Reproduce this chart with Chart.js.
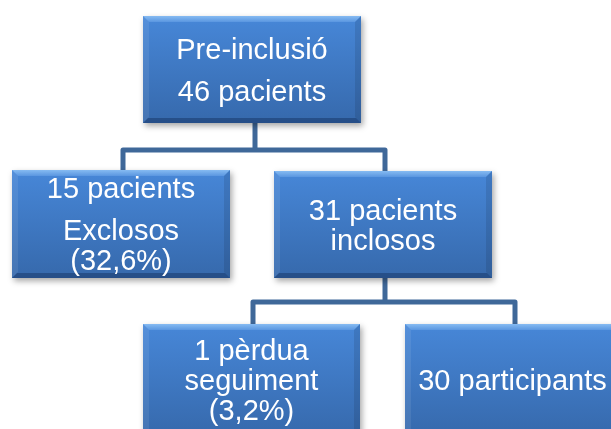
<!DOCTYPE html>
<html>
<head>
<meta charset="utf-8">
<script src="https://cdn.jsdelivr.net/npm/chart.js@4/dist/chart.umd.min.js"></script>
<style>
  html, body { margin: 0; padding: 0; background: #fff; }
  #wrap { width: 611px; height: 429px; }
</style>
</head>
<body>
<div id="wrap"><canvas id="myChart" width="611" height="429"></canvas></div>
<script>
// node texts (paragraphs -> lines)
var nodeIds = ['pre', 'excl', 'incl', 'lost', 'part'];
var nodeText = [
  [['Pre-inclusió'], ['46 pacients']],
  [['15 pacients'], ['Exclosos', '(32,6%)']],
  [['31 pacients', 'inclosos']],
  [['1 pèrdua', 'seguiment', '(3,2%)']],
  [['30 participants']]
];
// parent -> children
var links = [
  ['pre', ['excl', 'incl']],
  ['incl', ['lost', 'part']]
];

// layout in page units (left, top, right, bottom)
var boxes = {
  pre:  [143, 16, 361, 123],
  excl: [12, 170, 230, 278],
  incl: [274, 171, 492, 278],
  lost: [143, 324, 360, 436],
  part: [405, 324, 620, 436]
};
var stemX = { pre: 255, excl: 123, incl: 385, lost: 253, part: 515 };
var barY = { pre: 150, incl: 302 };

function cx(id){ return stemX[id]; }

// build connector datasets from the links
var connectorSets = [];
links.forEach(function(l){
  var p = l[0], kids = l[1];
  var pts = [];
  pts.push({x: cx(kids[0]), y: boxes[kids[0]][1]});
  pts.push({x: cx(kids[0]), y: barY[p]});
  pts.push({x: cx(kids[1]), y: barY[p]});
  pts.push({x: cx(kids[1]), y: boxes[kids[1]][1]});
  connectorSets.push({
    data: pts, showLine: true, borderColor: '#3f6899', borderWidth: 5,
    pointRadius: 0, borderJoinStyle: 'round', tension: 0, fill: false
  });
  connectorSets.push({
    data: [{x: cx(p), y: boxes[p][3]}, {x: cx(p), y: barY[p]}],
    showLine: true, borderColor: '#3f6899', borderWidth: 5,
    pointRadius: 0, tension: 0, fill: false
  });
});

function drawBox(ctx, l, t, r, b){
  var d = 6;
  ctx.save();
  ctx.shadowColor = 'rgba(0,0,0,0.35)';
  ctx.shadowBlur = 6;
  ctx.shadowOffsetX = 2;
  ctx.shadowOffsetY = 3;
  var g = ctx.createLinearGradient(0, t, 0, b);
  g.addColorStop(0, '#4787d8');
  g.addColorStop(1, '#3669ac');
  ctx.fillStyle = g;
  ctx.fillRect(l, t, r - l, b - t);
  ctx.restore();

  function poly(pts, fill){
    ctx.beginPath();
    ctx.moveTo(pts[0], pts[1]);
    for (var i = 2; i < pts.length; i += 2) ctx.lineTo(pts[i], pts[i+1]);
    ctx.closePath();
    ctx.fillStyle = fill;
    ctx.fill();
  }
  var gt = ctx.createLinearGradient(0, t, 0, t + d);
  gt.addColorStop(0, '#86bbf2');
  gt.addColorStop(1, '#5a96e0');
  poly([l, t, r, t, r - d, t + d, l + d, t + d], gt);
  poly([l, t, l + d, t + d, l + d, b - d, l, b], 'rgba(255,255,255,0.08)');
  poly([r, t, r, b, r - d, b - d, r - d, t + d], 'rgba(0,0,0,0.10)');
  poly([l, b, r, b, r - 5, b - 5, l + 5, b - 5], 'rgba(10,30,70,0.35)');
}

var boxPlugin = {
  id: 'boxes',
  afterDatasetsDraw: function(chart){
    var ctx = chart.ctx, xs = chart.scales.x, ys = chart.scales.y;
    nodeIds.forEach(function(id, i){
      var bb = boxes[id];
      var l = xs.getPixelForValue(bb[0]), r = xs.getPixelForValue(bb[2]);
      var t = ys.getPixelForValue(bb[1]), b = ys.getPixelForValue(bb[3]);
      drawBox(ctx, l, t, r, b);

      var paras = nodeText[i];
      var lh = 30, gap = 12, h = 0;
      paras.forEach(function(p, k){ h += p.length * lh + (k > 0 ? gap : 0); });
      var y = (t + b) / 2 - h / 2;
      ctx.save();
      ctx.fillStyle = '#ffffff';
      ctx.font = '29px "Liberation Sans", Arial, sans-serif';
      ctx.textAlign = 'center';
      ctx.textBaseline = 'alphabetic';
      paras.forEach(function(p, k){
        if (k > 0) y += gap;
        p.forEach(function(line){
          ctx.fillText(line, (l + r) / 2, y + 25);
          y += lh;
        });
      });
      ctx.restore();
    });
  }
};

var ctx = document.getElementById('myChart');
var myChart = new Chart(ctx, {
  type: 'scatter',
  data: { datasets: connectorSets },
  options: {
    responsive: false,
    animation: false,
    layout: { padding: 0 },
    plugins: { legend: { display: false }, tooltip: { enabled: false } },
    scales: {
      x: { type: 'linear', min: 0, max: 611, display: false },
      y: { type: 'linear', min: 0, max: 429, reverse: true, display: false }
    }
  },
  plugins: [boxPlugin]
});
</script>
</body>
</html>
